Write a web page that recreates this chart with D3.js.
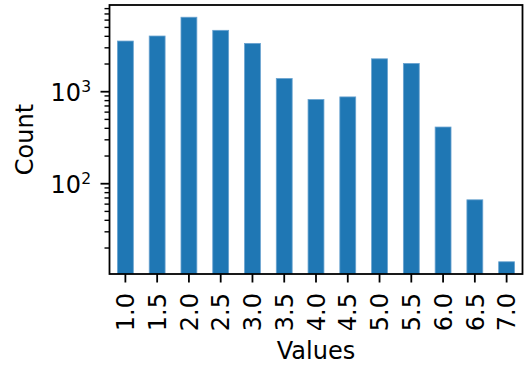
<!DOCTYPE html>
<html>
<head>
<meta charset="utf-8">
<script src="https://cdn.jsdelivr.net/npm/d3@7"></script>
<style>
  html, body { margin: 0; padding: 0; background: #fff; }
  svg { display: block; font-family: "DejaVu Sans", sans-serif; }
</style>
</head>
<body>
<svg id="chart" width="526" height="365"></svg>
<script>
// Category labels along the x axis
const categories = ["1.0", "1.5", "2.0", "2.5", "3.0", "3.5", "4.0", "4.5", "5.0", "5.5", "6.0", "6.5", "7.0"];
// Count for each category (log scale)
const counts = [3510, 3980, 6370, 4590, 3310, 1375, 812, 867, 2250, 2005, 408, 66, 14];
// Major tick exponents on the y axis
const majorExponents = [2, 3];
const xLabel = "Values";
const yLabel = "Count";

const svg = d3.select("#chart");
const plotLeft = 109.5, plotRight = 522.5, plotTop = 5, plotBottom = 274;
const fontSize = 24;
const barColor = "#1f77b4";

const x = d3.scaleBand()
  .domain(categories)
  .range([plotLeft, plotRight])
  .paddingInner(0.5)
  .paddingOuter(0.25);

// Log-space limits with a 5% margin on each side
const lmin = Math.log10(d3.min(counts)), lmax = Math.log10(d3.max(counts));
const pad = (lmax - lmin) * 0.05;
const y = d3.scaleLog()
  .domain([Math.pow(10, lmin - pad), Math.pow(10, lmax + pad)])
  .range([plotBottom, plotTop]);

svg.append("defs").append("clipPath").attr("id", "plot-clip")
  .append("rect").attr("x", plotLeft).attr("y", plotTop)
  .attr("width", plotRight - plotLeft).attr("height", plotBottom - plotTop);

// Bars
svg.append("g").attr("clip-path", "url(#plot-clip)")
  .selectAll("rect")
  .data(categories)
  .join("rect")
  .attr("x", d => x(d))
  .attr("width", x.bandwidth())
  .attr("y", (d, i) => y(counts[i]))
  .attr("height", (d, i) => plotBottom + 2 - y(counts[i]))
  .attr("fill", barColor)
  .attr("stroke", "#6aa3d0")
  .attr("stroke-width", 0.8);

// Minor ticks on the log axis
const [d0, d1] = y.domain();
const minorTicks = [];
for (let e = Math.floor(Math.log10(d0)); e <= Math.ceil(Math.log10(d1)); e++) {
  for (let m = 2; m <= 9; m++) {
    const v = m * Math.pow(10, e);
    if (v >= d0 && v <= d1) minorTicks.push(v);
  }
}
const majorTicks = majorExponents.map(e => Math.pow(10, e));

const yMinor = svg.append("g").attr("transform", `translate(${plotLeft},0)`)
  .call(d3.axisLeft(y).tickValues(minorTicks).tickSize(5).tickFormat(""));
yMinor.select(".domain").remove();
yMinor.selectAll("line").attr("stroke", "#000").attr("stroke-width", 1.4);

const yMajor = svg.append("g").attr("transform", `translate(${plotLeft},0)`)
  .call(d3.axisLeft(y).tickValues(majorTicks).tickSize(9).tickFormat(""));
yMajor.select(".domain").remove();
yMajor.selectAll("line").attr("stroke", "#000").attr("stroke-width", 1.8);

// Major labels written as 10 with a superscript exponent
const yLabels = svg.append("g");
majorExponents.forEach(e => {
  const t = yLabels.append("text")
    .attr("x", 91)
    .attr("y", y(Math.pow(10, e)) + 9.5)
    .attr("text-anchor", "end")
    .attr("font-size", fontSize)
    .attr("fill", "#000");
  t.append("tspan").text("10");
  t.append("tspan").attr("font-size", 15.5).attr("dy", -9).text(String(e));
});

// X axis ticks and rotated labels
const xAxis = svg.append("g").attr("transform", `translate(0,${plotBottom})`)
  .call(d3.axisBottom(x).tickSize(8.5).tickFormat(""));
xAxis.select(".domain").remove();
xAxis.selectAll("line").attr("stroke", "#000").attr("stroke-width", 1.8);

svg.append("g").selectAll("text")
  .data(categories)
  .join("text")
  .attr("transform", d => `translate(${x(d) + x.bandwidth() / 2 + 8.7},293) rotate(-90)`)
  .attr("text-anchor", "end")
  .attr("font-size", fontSize)
  .attr("fill", "#000")
  .text(d => d);

// Frame around the plot area
svg.append("rect")
  .attr("x", plotLeft).attr("y", plotTop)
  .attr("width", plotRight - plotLeft).attr("height", plotBottom - plotTop)
  .attr("fill", "none").attr("stroke", "#000").attr("stroke-width", 1.8);

// Axis titles
svg.append("text")
  .attr("x", (plotLeft + plotRight) / 2).attr("y", 359)
  .attr("text-anchor", "middle")
  .attr("font-size", fontSize)
  .attr("fill", "#000")
  .text(xLabel);

svg.append("text")
  .attr("transform", `translate(33,${(plotTop + plotBottom) / 2}) rotate(-90)`)
  .attr("text-anchor", "middle")
  .attr("font-size", fontSize)
  .attr("fill", "#000")
  .text(yLabel);
</script>
</body>
</html>
